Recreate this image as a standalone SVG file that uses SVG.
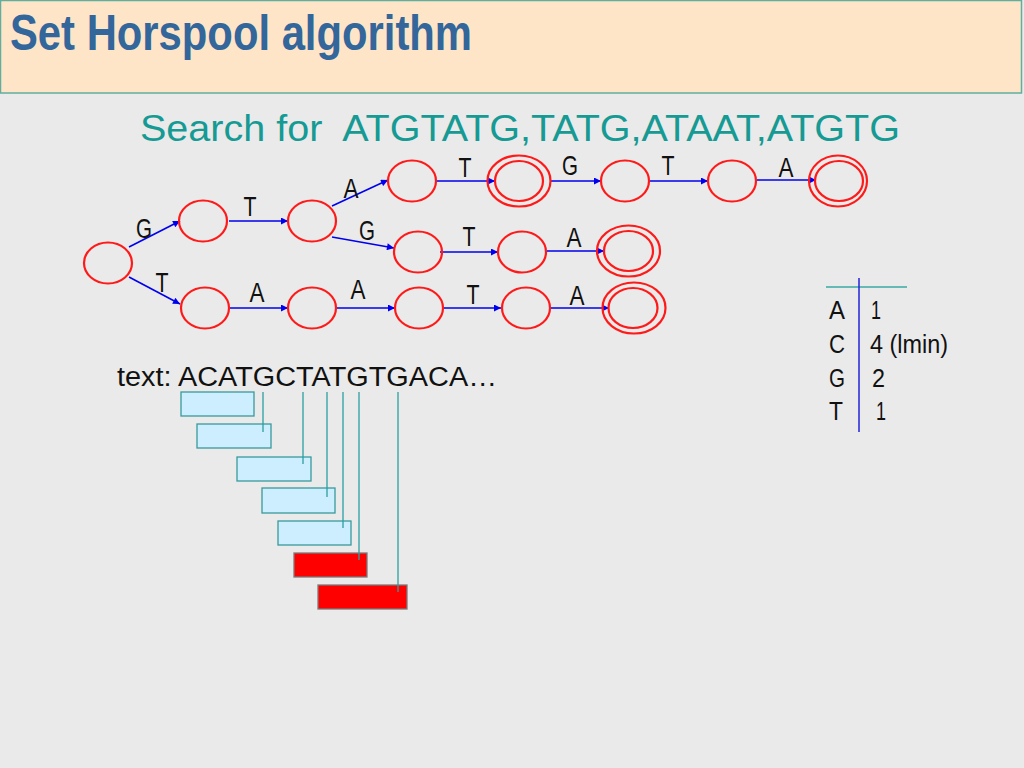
<svg xmlns="http://www.w3.org/2000/svg" width="1024" height="768" viewBox="0 0 1024 768">
<defs>
<marker id="ah" viewBox="0 0 10 10" refX="10" refY="5" markerWidth="9" markerHeight="7" markerUnits="userSpaceOnUse" orient="auto">
<path d="M0,0 L10,5 L0,10 z" fill="#0000ee"/>
</marker>
<style>
.st{fill:none;stroke:#ff1a1a;stroke-width:2.2}
.ed line{stroke:#0000ee;stroke-width:1.6;marker-end:url(#ah)}
.lb{font-family:"Liberation Sans",Arial,sans-serif;font-size:28px;fill:#111;text-anchor:middle}
.tb{font-family:"Liberation Sans",Arial,sans-serif;font-size:26px;fill:#111}
.bx{fill:#cceeff;stroke:#3a9a9a;stroke-width:1.3}
.rx{fill:#ff0000;stroke:#7a7a7a;stroke-width:1.3}
.vl{stroke:#2aa0a0;stroke-width:1.3}
</style>
</defs>
<rect width="1024" height="768" fill="#eaeaea"/>
<g id="title">
<rect x="0.5" y="0.5" width="1021" height="92.5" fill="#ffe5c8" stroke="#5fae9e" stroke-width="1.5"/>
<text x="10" y="50" font-family="'Liberation Sans',Arial,sans-serif" font-weight="bold" font-size="50" fill="#33669a" textLength="462" lengthAdjust="spacingAndGlyphs">Set Horspool algorithm</text>
</g>
<text id="subtitle" x="140" y="141" font-family="'Liberation Sans',Arial,sans-serif" font-size="37" fill="#159a94" textLength="760" lengthAdjust="spacingAndGlyphs" xml:space="preserve">Search for  ATGTATG,TATG,ATAAT,ATGTG</text>

<g id="connectors" class="ed">
<line x1="129" y1="247" x2="180" y2="221"/>
<line x1="129" y1="277" x2="180" y2="304"/>
<line x1="229" y1="221" x2="288" y2="221"/>
<line x1="332" y1="206" x2="388" y2="180"/>
<line x1="332" y1="237" x2="394" y2="248"/>
<line x1="229" y1="308" x2="288" y2="308"/>
<line x1="337" y1="308" x2="395" y2="308"/>
<line x1="437" y1="181" x2="495" y2="181"/>
<line x1="551" y1="181" x2="601" y2="181"/>
<line x1="650" y1="181" x2="708" y2="181"/>
<line x1="757" y1="180" x2="816" y2="180"/>
<line x1="440" y1="252" x2="498" y2="252"/>
<line x1="547" y1="251" x2="604" y2="251"/>
<line x1="443" y1="308" x2="501" y2="308"/>
<line x1="551" y1="308" x2="609" y2="308"/>
</g>

<g id="n0"><ellipse class="st" cx="108" cy="263" rx="24" ry="20.5"/></g>
<g id="nG"><ellipse class="st" cx="203" cy="221" rx="24" ry="20.5"/></g>
<g id="nGT"><ellipse class="st" cx="312" cy="221" rx="24" ry="20.5"/></g>
<g id="nGTA"><ellipse class="st" cx="412" cy="181" rx="24" ry="20.5"/></g>
<g id="nGTAT"><ellipse class="st" cx="519" cy="181" rx="31.5" ry="25.5"/><ellipse class="st" cx="519" cy="181" rx="24" ry="20"/></g>
<g id="nGTATG"><ellipse class="st" cx="625" cy="181" rx="24" ry="20.5"/></g>
<g id="nGTATGT"><ellipse class="st" cx="732" cy="181" rx="24" ry="20.5"/></g>
<g id="nGTATGTA"><ellipse class="st" cx="838" cy="181" rx="29" ry="25.5"/><ellipse class="st" cx="839" cy="181" rx="24" ry="20"/></g>
<g id="nGTG"><ellipse class="st" cx="418" cy="252" rx="24" ry="20.5"/></g>
<g id="nGTGT"><ellipse class="st" cx="522" cy="252" rx="24" ry="20.5"/></g>
<g id="nGTGTA"><ellipse class="st" cx="628.5" cy="251" rx="31.5" ry="25.5"/><ellipse class="st" cx="628.5" cy="251" rx="24.5" ry="20"/></g>
<g id="nT"><ellipse class="st" cx="205" cy="308" rx="24" ry="20.5"/></g>
<g id="nTA"><ellipse class="st" cx="312" cy="308" rx="24" ry="20.5"/></g>
<g id="nTAA"><ellipse class="st" cx="419" cy="308" rx="24" ry="20.5"/></g>
<g id="nTAAT"><ellipse class="st" cx="526" cy="308" rx="24" ry="20.5"/></g>
<g id="nTAATA"><ellipse class="st" cx="634" cy="308" rx="31.5" ry="25.5"/><ellipse class="st" cx="633" cy="308" rx="24.5" ry="20"/></g>

<g id="edge-labels">
<text class="lb" x="144" y="238" textLength="16" lengthAdjust="spacingAndGlyphs">G</text>
<text class="lb" x="250" y="216" textLength="13" lengthAdjust="spacingAndGlyphs">T</text>
<text class="lb" x="351" y="198" textLength="15" lengthAdjust="spacingAndGlyphs">A</text>
<text class="lb" x="367" y="240" textLength="16" lengthAdjust="spacingAndGlyphs">G</text>
<text class="lb" x="162" y="292" textLength="13" lengthAdjust="spacingAndGlyphs">T</text>
<text class="lb" x="257" y="302" textLength="15" lengthAdjust="spacingAndGlyphs">A</text>
<text class="lb" x="358" y="299" textLength="15" lengthAdjust="spacingAndGlyphs">A</text>
<text class="lb" x="465" y="177" textLength="13" lengthAdjust="spacingAndGlyphs">T</text>
<text class="lb" x="570" y="175" textLength="16" lengthAdjust="spacingAndGlyphs">G</text>
<text class="lb" x="668" y="175" textLength="13" lengthAdjust="spacingAndGlyphs">T</text>
<text class="lb" x="786" y="177" textLength="15" lengthAdjust="spacingAndGlyphs">A</text>
<text class="lb" x="469" y="246" textLength="13" lengthAdjust="spacingAndGlyphs">T</text>
<text class="lb" x="574" y="247" textLength="15" lengthAdjust="spacingAndGlyphs">A</text>
<text class="lb" x="473" y="304" textLength="13" lengthAdjust="spacingAndGlyphs">T</text>
<text class="lb" x="577" y="305" textLength="15" lengthAdjust="spacingAndGlyphs">A</text>
</g>

<g id="text-line">
<text x="117" y="386" font-family="'Liberation Sans',Arial,sans-serif" font-size="27" fill="#111" textLength="380" lengthAdjust="spacingAndGlyphs">text: ACATGCTATGTGACA…</text>
</g>

<g id="windows">
<rect class="bx" x="181" y="392" width="73" height="24"/>
<rect class="bx" x="197" y="424" width="74" height="24"/>
<rect class="bx" x="237" y="457" width="74" height="24"/>
<rect class="bx" x="262" y="488" width="73" height="25"/>
<rect class="bx" x="278" y="521" width="73" height="24"/>
<rect class="rx" x="294" y="553" width="73" height="24"/>
<rect class="rx" x="318" y="585" width="89" height="24"/>
</g>
<g id="pointers">
<line class="vl" x1="263" y1="392" x2="263" y2="432"/>
<line class="vl" x1="303" y1="392" x2="303" y2="464"/>
<line class="vl" x1="327" y1="392" x2="327" y2="497"/>
<line class="vl" x1="343" y1="392" x2="343" y2="528"/>
<line class="vl" x1="359" y1="392" x2="359" y2="560"/>
<line class="vl" x1="398" y1="392" x2="398" y2="592"/>
</g>

<g id="shift-table">
<line x1="826" y1="287" x2="907" y2="287" stroke="#3aaaa5" stroke-width="1.5"/>
<line x1="859" y1="278" x2="859" y2="432" stroke="#2222dd" stroke-width="1.5"/>
<text class="tb" x="829" y="319" textLength="16" lengthAdjust="spacingAndGlyphs">A</text>
<text class="tb" x="871" y="319" textLength="10" lengthAdjust="spacingAndGlyphs">1</text>
<text class="tb" x="829" y="353" textLength="16" lengthAdjust="spacingAndGlyphs">C</text>
<text class="tb" x="870" y="353" textLength="78" lengthAdjust="spacingAndGlyphs">4 (lmin)</text>
<text class="tb" x="829" y="387" textLength="16" lengthAdjust="spacingAndGlyphs">G</text>
<text class="tb" x="872" y="387" textLength="13" lengthAdjust="spacingAndGlyphs">2</text>
<text class="tb" x="829" y="420" textLength="14" lengthAdjust="spacingAndGlyphs">T</text>
<text class="tb" x="876" y="420" textLength="10" lengthAdjust="spacingAndGlyphs">1</text>
</g>
</svg>
